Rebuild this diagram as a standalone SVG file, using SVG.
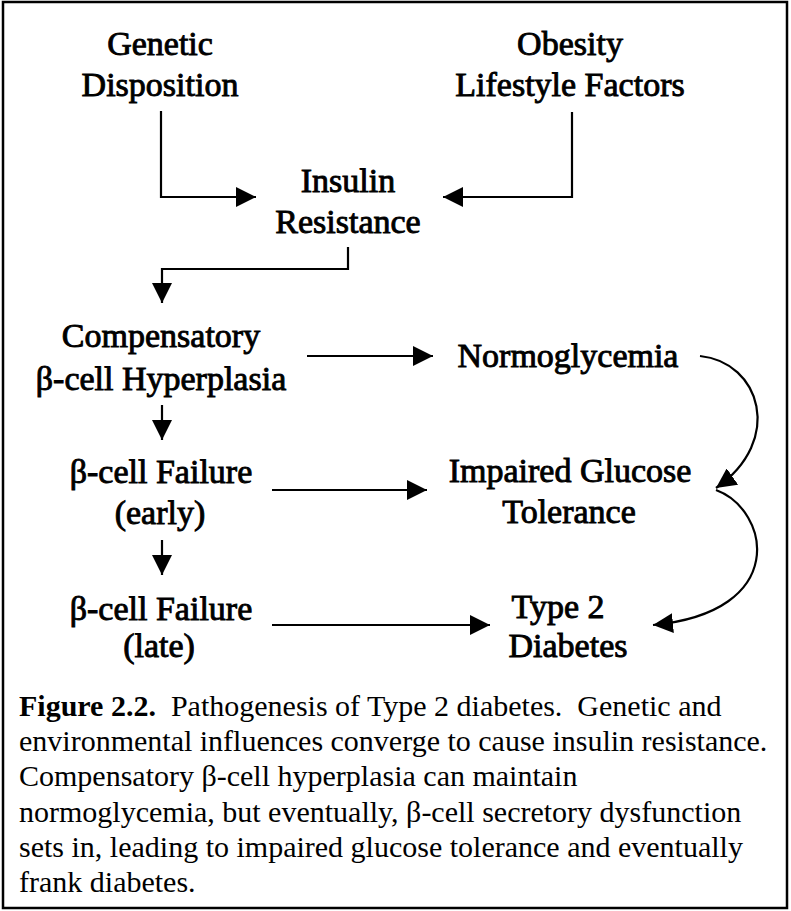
<svg xmlns="http://www.w3.org/2000/svg" width="791" height="911" viewBox="0 0 791 911">
<style>
.n{font-family:"Liberation Serif","Times New Roman",serif;font-size:34px;fill:#000;stroke:#000;stroke-width:0.9;text-anchor:middle}
.c{font-family:"Liberation Serif","Times New Roman",serif;font-size:30px;fill:#000;white-space:pre}
.b{font-weight:bold}
.l{fill:none;stroke:#000;stroke-width:2.2}
</style>
<defs>
<marker id="ah" viewBox="0 0 20 20" refX="20" refY="10" markerWidth="20" markerHeight="20" markerUnits="userSpaceOnUse" orient="auto">
<path d="M0,0 L20,10 L0,20 Z" fill="#000"/>
</marker>
</defs>
<rect x="3" y="2" width="784" height="906" fill="#fff" stroke="#000" stroke-width="2.5"/>
<g id="genetic"><text class="n" x="160" y="55">Genetic</text><text class="n" x="160" y="96">Disposition</text></g>
<g id="obesity"><text class="n" x="570" y="55">Obesity</text><text class="n" x="570" y="96">Lifestyle Factors</text></g>
<g id="insulin"><text class="n" x="348" y="192">Insulin</text><text class="n" x="348" y="233">Resistance</text></g>
<g id="compensatory"><text class="n" x="161" y="347">Compensatory</text><text class="n" x="161" y="390">β-cell Hyperplasia</text></g>
<g id="failure-early"><text class="n" x="161" y="483">β-cell Failure</text><text class="n" x="160" y="524">(early)</text></g>
<g id="failure-late"><text class="n" x="161" y="620">β-cell Failure</text><text class="n" x="159" y="657">(late)</text></g>
<g id="normoglycemia"><text class="n" x="568" y="367">Normoglycemia</text></g>
<g id="igt"><text class="n" x="570" y="482">Impaired Glucose</text><text class="n" x="569" y="523">Tolerance</text></g>
<g id="type2"><text class="n" x="558" y="618">Type 2</text><text class="n" x="568" y="657">Diabetes</text></g>
<g id="connectors">
<path class="l" d="M161,111 V197 H256" marker-end="url(#ah)"/>
<path class="l" d="M572,112 V197 H443" marker-end="url(#ah)"/>
<path class="l" d="M348,247 V269 H162 V303" marker-end="url(#ah)"/>
<path class="l" d="M162,405 V440" marker-end="url(#ah)"/>
<path class="l" d="M162,540 V575" marker-end="url(#ah)"/>
<path class="l" d="M307,356 H433" marker-end="url(#ah)"/>
<path class="l" d="M272,490 H427" marker-end="url(#ah)"/>
<path class="l" d="M272,625 H490" marker-end="url(#ah)"/>
<path class="l" d="M700,356 C760,362 785,440 716,488" marker-end="url(#ah)"/>
<path class="l" d="M716,490 C770,510 790,612 653,625" marker-end="url(#ah)"/>
</g>
<g id="caption">
<text class="c" x="19" y="716"><tspan class="b">Figure 2.2.</tspan>  Pathogenesis of Type 2 diabetes.  Genetic and</text>
<text class="c" x="19" y="751">environmental influences converge to cause insulin resistance.</text>
<text class="c" x="19" y="786">Compensatory β-cell hyperplasia can maintain</text>
<text class="c" x="19" y="822">normoglycemia, but eventually, β-cell secretory dysfunction</text>
<text class="c" x="19" y="857">sets in, leading to impaired glucose tolerance and eventually</text>
<text class="c" x="19" y="892">frank diabetes.</text>
</g>
</svg>
